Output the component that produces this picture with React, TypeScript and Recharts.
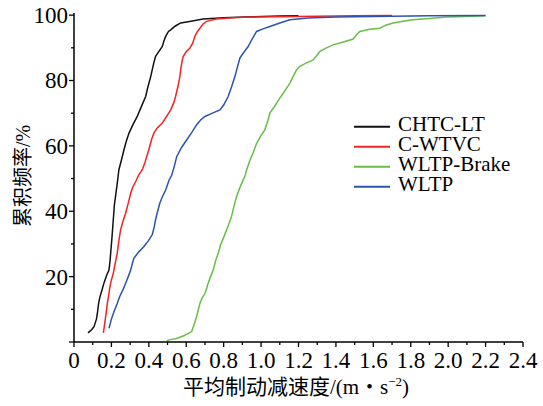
import React from 'react';
import { LineChart, Line, XAxis, YAxis } from 'recharts';

const SERIES_NAMES = ['CHTC-LT', 'C-WTVC', 'WLTP-Brake', 'WLTP'];
const SERIES_COLORS = ['#111111', '#f02424', '#66be46', '#2b53b3'];

const X_TICKS = [0, 0.1, 0.2, 0.3, 0.4, 0.5, 0.6, 0.7, 0.8, 0.9, 1.0, 1.1, 1.2, 1.3, 1.4, 1.5, 1.6, 1.7, 1.8, 1.9, 2.0, 2.1, 2.2, 2.3, 2.4];
const X_LABELS: Record<string, string> = { '0': '0', '0.2': '0.2', '0.4': '0.4', '0.6': '0.6', '0.8': '0.8', '1': '1.0', '1.2': '1.2', '1.4': '1.4', '1.6': '1.6', '1.8': '1.8', '2': '2.0', '2.2': '2.2', '2.4': '2.4' };
const Y_TICKS = [0, 10, 20, 30, 40, 50, 60, 70, 80, 90, 100];
const Y_LABELS: Record<string, string> = { '20': '20', '40': '40', '60': '60', '80': '80', '100': '100' };

const CHTC_LT: [number, number][] = [
  [0.075, 2.8], [0.095, 3.8], [0.107, 4.7], [0.12, 7], [0.125, 8.8], [0.132, 12], [0.139, 13.9], [0.15, 16], [0.16, 18],
  [0.175, 20.5], [0.187, 22], [0.193, 25], [0.196, 27.2], [0.203, 32], [0.21, 37.4], [0.216, 42], [0.223, 45], [0.23, 48],
  [0.24, 52.7], [0.255, 56], [0.267, 58.8], [0.28, 61.5], [0.294, 63.9], [0.315, 66.5], [0.338, 69], [0.36, 72], [0.383, 75.1],
  [0.395, 78], [0.41, 81.2], [0.425, 85], [0.436, 87.4], [0.455, 89], [0.472, 90.4], [0.48, 92], [0.49, 93.5], [0.505, 95],
  [0.517, 95.5], [0.54, 96.6], [0.57, 97.6], [0.61, 98], [0.64, 98.3], [0.69, 98.8], [0.8, 99.2], [0.95, 99.5], [1.1, 99.7], [1.2, 99.8],
];

const C_WTVC: [number, number][] = [
  [0.157, 2.8], [0.165, 6], [0.172, 9], [0.178, 11.8], [0.186, 14.5], [0.192, 16.9], [0.2, 19], [0.21, 21], [0.22, 24],
  [0.231, 27.2], [0.24, 31], [0.249, 34.3], [0.262, 37], [0.276, 39.4], [0.29, 42.5], [0.303, 45.5], [0.315, 47.5], [0.33, 49.1],
  [0.345, 51], [0.365, 52.7], [0.38, 55], [0.39, 57], [0.4, 58.8], [0.415, 62], [0.427, 63.9], [0.445, 65.5], [0.472, 67],
  [0.495, 69], [0.517, 71], [0.532, 73], [0.543, 75.1], [0.555, 78], [0.566, 81.2], [0.572, 84], [0.579, 86.3], [0.584, 87.4],
  [0.6, 88.8], [0.62, 89.9], [0.635, 91.5], [0.646, 93.5], [0.66, 95], [0.673, 96], [0.69, 97.3], [0.709, 98.1], [0.76, 98.8],
  [0.85, 99.2], [0.94, 99.4], [1.2, 99.6], [1.5, 99.8], [1.7, 99.9],
];

const WLTP_BRAKE: [number, number][] = [
  [0.495, 0.4], [0.52, 0.8], [0.549, 1.1], [0.59, 2], [0.629, 3.2], [0.64, 5], [0.655, 7.7], [0.665, 10], [0.673, 11.8],
  [0.685, 13.5], [0.7, 14.9], [0.71, 16.5], [0.717, 18], [0.73, 20], [0.744, 22], [0.758, 25], [0.771, 27.2], [0.785, 30],
  [0.8, 32], [0.816, 34.3], [0.83, 36.5], [0.842, 38.4], [0.855, 41.5], [0.869, 44.5], [0.885, 47], [0.904, 49.6], [0.913, 50.6],
  [0.923, 52.7], [0.94, 55.5], [0.958, 58], [0.976, 60.8], [0.998, 63], [1.02, 64.9], [1.035, 67.5], [1.047, 70], [1.065, 71.5],
  [1.083, 73.1], [1.1, 74.6], [1.118, 76.1], [1.136, 77.6], [1.154, 79.2], [1.171, 81.2], [1.19, 83.3], [1.207, 84.3], [1.24, 85.3],
  [1.278, 86.3], [1.3, 87.8], [1.314, 88.9], [1.35, 90], [1.385, 90.9], [1.44, 91.8], [1.492, 92.7], [1.51, 94], [1.528, 95],
  [1.58, 95.7], [1.635, 96], [1.67, 97], [1.706, 97.6], [1.76, 98.1], [1.81, 98.6], [1.9, 99], [1.99, 99.4], [2.098, 99.6], [2.2, 99.8],
];

const WLTP: [number, number][] = [
  [0.187, 4.2], [0.2, 7], [0.215, 9.5], [0.231, 11.8], [0.245, 14], [0.262, 16], [0.276, 18], [0.29, 20], [0.303, 22], [0.312, 24],
  [0.32, 25.6], [0.345, 27.5], [0.374, 29.2], [0.398, 31], [0.418, 32.8], [0.428, 35], [0.436, 37.4], [0.447, 40], [0.459, 42.5],
  [0.473, 44.5], [0.49, 46.5], [0.508, 49.5], [0.522, 51], [0.535, 53.5], [0.549, 56.7], [0.575, 59.5], [0.602, 61.8], [0.628, 64],
  [0.655, 66.4], [0.678, 68], [0.7, 69], [0.74, 70], [0.78, 71], [0.8, 72.5], [0.824, 75.1], [0.842, 78], [0.86, 81.2], [0.873, 84],
  [0.887, 86.9], [0.91, 88.8], [0.931, 90.4], [0.955, 93], [0.976, 95], [1.01, 95.8], [1.047, 96.5], [1.1, 97.6], [1.154, 98.6],
  [1.25, 99.1], [1.4, 99.4], [1.6, 99.6], [1.9, 99.8], [2.2, 99.9],
];

const SERIES_DATA = [CHTC_LT, C_WTVC, WLTP_BRAKE, WLTP];

const SERIF = "'Liberation Serif', 'Times New Roman', serif";
const CJK = "'Noto Sans CJK SC', sans-serif";

const toRows = (pts: [number, number][]) => pts.map(([x, y]) => ({ x, y }));

const XTick = (props: any) => {
  const { x, y, payload } = props;
  const v = payload.value as number;
  const key = String(Math.round(v * 10) / 10);
  const label = X_LABELS[key];
  const major = label !== undefined;
  return (
    <g>
      <line x1={x} x2={x} y1={y} y2={y + (major ? 5 : 3)} stroke="#000" strokeWidth={1.3} />
      {major && (
        <text x={x} y={y + 26} textAnchor="middle" fontFamily={SERIF} fontSize={23} fill="#000">
          {label}
        </text>
      )}
    </g>
  );
};

const YTick = (props: any) => {
  const { x, y, payload } = props;
  const v = payload.value as number;
  const major = v % 20 === 0;
  const label = Y_LABELS[String(v)];
  return (
    <g>
      <line x1={x - (major ? 5 : 3)} x2={x} y1={y} y2={y} stroke="#000" strokeWidth={1.3} />
      {label && (
        <text x={x - 6} y={y + 8} textAnchor="end" fontFamily={SERIF} fontSize={23} fill="#000">
          {label}
        </text>
      )}
    </g>
  );
};

const LEGEND_Y = [126.7, 146.7, 166.7, 186.7];

export default function App() {
  return (
    <div style={{ position: 'absolute', left: 0, top: 0, width: 543, height: 406, background: '#fff' }}>
      <LineChart width={543} height={406} margin={{ top: 13, right: 20, left: 0, bottom: 0 }}>
        <XAxis
          type="number"
          dataKey="x"
          domain={[0, 2.4]}
          ticks={X_TICKS}
          interval={0}
          tickSize={0}
          tickMargin={0}
          tickLine={false}
          tick={<XTick />}
          height={64}
          axisLine={{ stroke: '#000', strokeWidth: 1.5 }}
          allowDataOverflow
        />
        <XAxis
          xAxisId="top"
          orientation="top"
          type="number"
          domain={[0, 2.4]}
          tick={false}
          tickLine={false}
          height={0}
          axisLine={{ stroke: '#000', strokeWidth: 1.5 }}
        />
        <YAxis
          type="number"
          dataKey="y"
          domain={[0, 100.65]}
          ticks={Y_TICKS}
          interval={0}
          tickSize={0}
          tickMargin={0}
          tickLine={false}
          tick={<YTick />}
          width={74}
          axisLine={{ stroke: '#000', strokeWidth: 1.5 }}
          allowDataOverflow
        />
        <YAxis
          yAxisId="right"
          orientation="right"
          type="number"
          domain={[0, 100.65]}
          tick={false}
          tickLine={false}
          width={0}
          axisLine={{ stroke: '#000', strokeWidth: 1.5 }}
        />
        {SERIES_DATA.map((pts, i) => (
          <Line
            key={SERIES_NAMES[i]}
            data={toRows(pts)}
            dataKey="y"
            name={SERIES_NAMES[i]}
            type="linear"
            stroke={SERIES_COLORS[i]}
            strokeWidth={1.5}
            dot={false}
            activeDot={false}
            isAnimationActive={false}
          />
        ))}
      </LineChart>
      <svg
        width={543}
        height={406}
        style={{ position: 'absolute', left: 0, top: 0, pointerEvents: 'none' }}
      >
        {SERIES_NAMES.map((name, i) => (
          <g key={name}>
            <line x1={354} x2={390} y1={LEGEND_Y[i]} y2={LEGEND_Y[i]} stroke={SERIES_COLORS[i]} strokeWidth={2} />
            <text x={398} y={LEGEND_Y[i] + 4.5} fontFamily={SERIF} fontSize={21} fill="#000">
              {name}
            </text>
          </g>
        ))}
        <text x={296} y={394} textAnchor="middle" fontSize={21} fill="#000">
          <tspan fontFamily={CJK}>平均制动减速度</tspan>
          <tspan fontFamily={SERIF}>/(m</tspan>
          <tspan fontFamily={CJK}>・</tspan>
          <tspan fontFamily={SERIF}>s</tspan>
          <tspan fontFamily={SERIF} fontSize={13} dy={-8}>−2</tspan>
          <tspan fontFamily={SERIF} dy={8}>)</tspan>
        </text>
        <text transform="translate(30,176) rotate(-90)" textAnchor="middle" fontSize={20} fill="#000">
          <tspan fontFamily={CJK}>累积频率</tspan>
          <tspan fontFamily={SERIF}>/%</tspan>
        </text>
      </svg>
    </div>
  );
}
